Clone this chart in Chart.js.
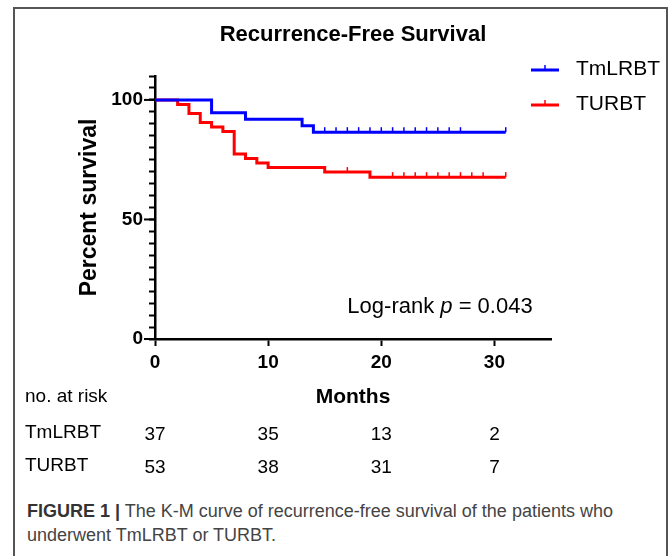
<!DOCTYPE html>
<html>
<head>
<meta charset="utf-8">
<script src="https://cdn.jsdelivr.net/npm/chart.js@4.4.1/dist/chart.umd.min.js"></script>
<style>
  body { margin: 0; background: #fff; width: 670px; height: 556px; overflow: hidden; position: relative; font-family: "Liberation Sans", Arial, sans-serif; }
  #frame { position: absolute; left: 13px; top: 7px; width: 651px; height: 600px; border: 2px solid #555; border-bottom: none; }
  #wrap { position: absolute; left: 0; top: 0; width: 670px; height: 485px; }
  #caption { position: absolute; left: 27px; top: 499px; width: 630px; font-size: 18px; line-height: 24px; color: #444; }
  #caption b { color: #333; }
</style>
</head>
<body>
<div id="frame"></div>
<div id="wrap"><canvas id="myChart" width="670" height="485"></canvas></div>
<div id="caption"><b>FIGURE 1 |</b> The K-M curve of recurrence-free survival of the patients who underwent TmLRBT or TURBT.</div>
<script>
// groups and colours
const groups = ['TmLRBT', 'TURBT'];
const colors = ['#0000ff', '#ff0000'];

// step curves (months, percent survival)
const tmTimes = [0, 5, 8, 13, 14, 31];
const tmSurv = [100, 94.6, 91.9, 89.2, 86.5, 86.5];
const tuTimes = [0, 2, 3, 4, 5, 6, 7, 8, 9, 10, 15, 19, 31];
const tuSurv = [100, 98.1, 94.3, 90.6, 88.7, 86.8, 77.4, 75.5, 73.6, 71.7, 69.8, 67.7, 67.7];

// censored observations (months)
const tmCensor = [15, 16, 17, 18, 19, 20, 21, 22, 23, 24, 25, 26, 27, 31];
const tuCensor = [17, 21, 22, 23, 24, 25, 26, 27, 28, 29, 31];

// number at risk table
const riskTimes = [0, 10, 20, 30];
const tmRisk = [37, 35, 13, 2];
const tuRisk = [53, 38, 31, 7];

const yLabels = [0, 50, 100];

// value of a step curve at time t
function survAt(times, surv, t) {
  let v = surv[0];
  times.forEach((tt, i) => { if (tt <= t) v = surv[i]; });
  return v;
}

function toPoints(times, surv) {
  return times.map((t, i) => ({ x: t, y: surv[i] }));
}

function censorPoints(cens, times, surv) {
  return cens.map(t => ({ x: t, y: survAt(times, surv, t) }));
}

const curveDs = (label, pts, color) => ({
  label: label,
  data: pts,
  stepped: 'before',
  borderColor: color,
  borderWidth: 3,
  pointRadius: 0,
  fill: false
});

const censorDs = (label, pts, color) => ({
  label: label + ' censored',
  data: pts,
  showLine: false,
  borderColor: color,
  backgroundColor: color,
  pointStyle: 'dash',
  pointRotation: -90,
  pointRadius: 5,
  pointBorderWidth: 1.5,
  pointHoverRadius: 5
});

// legend, annotation, longer major ticks and at-risk table
const extras = {
  id: 'extras',
  afterDraw(chart) {
    const ctx = chart.ctx;
    const xs = chart.scales.x;
    const ys = chart.scales.y;
    ctx.save();

    // major y ticks a bit longer
    ctx.strokeStyle = '#000';
    ctx.lineWidth = 2;
    yLabels.forEach(v => {
      const y = ys.getPixelForValue(v);
      ctx.beginPath();
      ctx.moveTo(xs.left - 11, y);
      ctx.lineTo(xs.left, y);
      ctx.stroke();
    });

    // legend
    const legY = [70, 105];
    groups.forEach((g, i) => {
      ctx.strokeStyle = colors[i];
      ctx.lineWidth = 3;
      ctx.beginPath();
      ctx.moveTo(531, legY[i]);
      ctx.lineTo(559, legY[i]);
      ctx.stroke();
      ctx.lineWidth = 1.5;
      ctx.beginPath();
      ctx.moveTo(545, legY[i]);
      ctx.lineTo(545, legY[i] - 5);
      ctx.stroke();
      ctx.fillStyle = '#000';
      ctx.font = '21px "Liberation Sans", Arial, sans-serif';
      ctx.textBaseline = 'middle';
      ctx.textAlign = 'left';
      ctx.fillText(g, 576, legY[i] - 1);
    });

    // log-rank
    ctx.textBaseline = 'alphabetic';
    let px = xs.getPixelForValue(17);
    const py = ys.getPixelForValue(11);
    ctx.font = '22px "Liberation Sans", Arial, sans-serif';
    ctx.fillText('Log-rank ', px, py);
    px += ctx.measureText('Log-rank ').width;
    ctx.font = 'italic 22px "Liberation Sans", Arial, sans-serif';
    ctx.fillText('p', px, py);
    px += ctx.measureText('p').width;
    ctx.font = '22px "Liberation Sans", Arial, sans-serif';
    ctx.fillText(' = 0.043', px, py);

    // number at risk
    ctx.font = '19px "Liberation Sans", Arial, sans-serif';
    ctx.textBaseline = 'middle';
    ctx.fillText('no. at risk', 25, 397);
    const rows = [[tmRisk, 433], [tuRisk, 466]];
    rows.forEach((r, i) => {
      ctx.textAlign = 'left';
      ctx.fillText(groups[i], 25, r[1]);
      ctx.textAlign = 'center';
      riskTimes.forEach((t, j) => {
        ctx.fillText(String(r[0][j]), xs.getPixelForValue(t), r[1] + 2);
      });
    });
    ctx.restore();
  }
};

const ctx = document.getElementById('myChart').getContext('2d');
const myChart = new Chart(ctx, {
  type: 'line',
  data: {
    datasets: [
      curveDs(groups[0], toPoints(tmTimes, tmSurv), colors[0]),
      curveDs(groups[1], toPoints(tuTimes, tuSurv), colors[1]),
      censorDs(groups[0], censorPoints(tmCensor, tmTimes, tmSurv), colors[0]),
      censorDs(groups[1], censorPoints(tuCensor, tuTimes, tuSurv), colors[1])
    ]
  },
  options: {
    responsive: false,
    animation: false,
    layout: { padding: { left: 0, right: 119, top: 0, bottom: 65 } },
    plugins: {
      legend: { display: false },
      tooltip: { enabled: false },
      title: {
        display: true,
        text: 'Recurrence-Free Survival',
        fullSize: false,
        color: '#000',
        font: { family: '"Liberation Sans", Arial, sans-serif', size: 22, weight: 'bold' },
        padding: { top: 22, bottom: 27.6 }
      }
    },
    scales: {
      x: {
        type: 'linear',
        min: 0,
        max: 35,
        afterFit: (s) => { s.height = 81; },
        border: { color: '#000', width: 2.5 },
        grid: { drawOnChartArea: false, tickLength: 7, tickWidth: 2, tickColor: '#000' },
        ticks: {
          stepSize: 10,
          includeBounds: false,
          color: '#000',
          padding: 5,
          font: { family: '"Liberation Sans", Arial, sans-serif', size: 19, weight: 'bold' }
        },
        title: {
          display: true,
          text: 'Months',
          color: '#000',
          font: { family: '"Liberation Sans", Arial, sans-serif', size: 21, weight: 'bold' },
          padding: { top: 0, bottom: 10 }
        }
      },
      y: {
        min: 0,
        max: 110,
        afterFit: (s) => { s.width = 155; },
        border: { color: '#000', width: 2.5 },
        grid: { drawOnChartArea: false, tickLength: 6, tickWidth: 2, tickColor: '#000' },
        ticks: {
          stepSize: 5,
          autoSkip: false,
          color: '#000',
          padding: 6,
          font: { family: '"Liberation Sans", Arial, sans-serif', size: 19, weight: 'bold' },
          callback: (v) => yLabels.includes(v) ? v : ''
        },
        title: {
          display: true,
          text: 'Percent survival',
          color: '#000',
          font: { family: '"Liberation Sans", Arial, sans-serif', size: 23, weight: 'bold' },
          padding: { top: 76, bottom: 0 }
        }
      }
    }
  },
  plugins: [extras]
});
</script>
</body>
</html>
